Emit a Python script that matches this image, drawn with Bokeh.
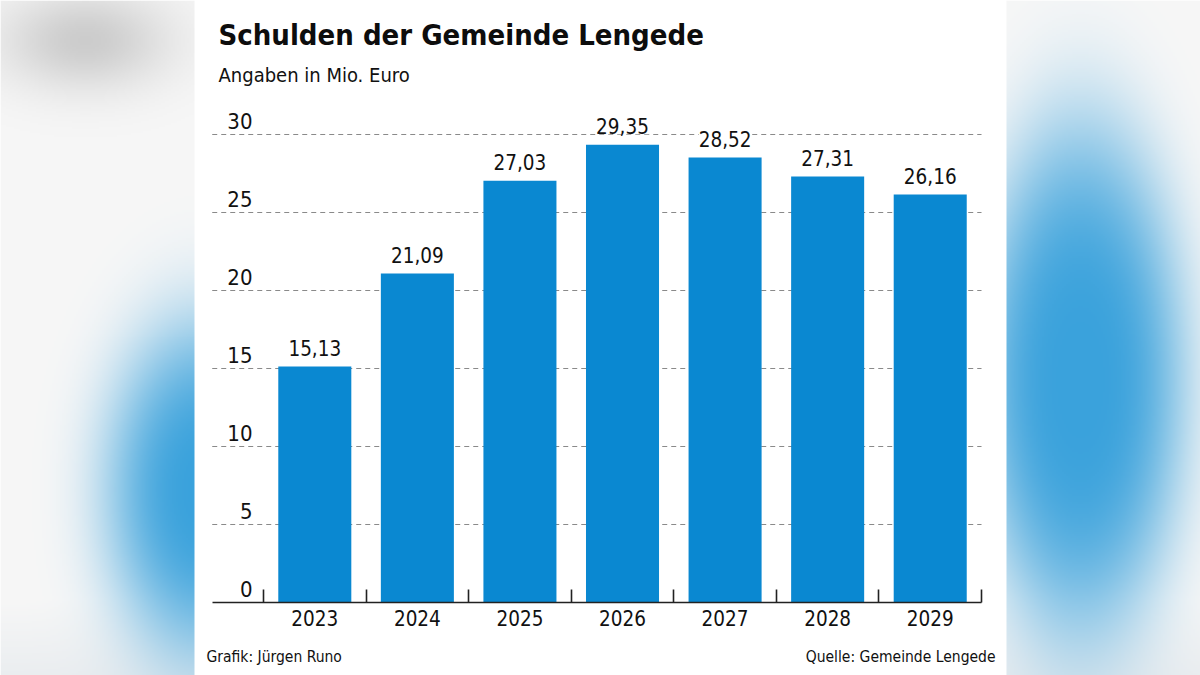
import numpy as np
from bokeh.plotting import figure
from bokeh.models import FixedTicker, Range1d, Label, LinearAxis
from bokeh.core.properties import value
from bokeh.embed import file_html
from bokeh.resources import INLINE

# ---------------- data ----------------
years = ["2023", "2024", "2025", "2026", "2027", "2028", "2029"]
debt = [15.13, 21.09, 27.03, 29.35, 28.52, 27.31, 26.16]
debt_labels = ["15,13", "21,09", "27,03", "29,35", "28,52", "27,31", "26,16"]
y_ticks = [0, 5, 10, 15, 20, 25, 30]
y_tick_labels = ["0", "5", "10", "15", "20", "25", "30"]
grid_values = [5, 10, 15, 20, 25, 30]

title_text = "Schulden der Gemeinde Lengede"
subtitle_text = "Angaben in Mio. Euro"
credit_text = "Grafik: Jürgen Runo"
source_text = "Quelle: Gemeinde Lengede"

# ---------------- layout constants ----------------
W, H = 1200, 675
CAT0_PX = 314.3        # centre of first category (px)
CAT_PX = 102.57        # category width (px)
BASE_PX = 602.0        # y = 0 (px from top)
UNIT_PX = 15.6         # px per unit

x_start = (0 - CAT0_PX) / CAT_PX
x_end = (W - CAT0_PX) / CAT_PX
y_end = BASE_PX / UNIT_PX
y_start = (BASE_PX - H) / UNIT_PX

n = len(years)
idx = list(range(n))
lo, hi = -1.0, n - 0.5

FONT = "'DejaVu Sans Condensed', 'DejaVu Sans', sans-serif"
INK = "#111111"
BLUE = "#0a88d1"
BL = 0.36  # renderer's alphabetic-baseline shift, in em

p = figure(width=W, height=H, output_backend="svg", toolbar_location=None,
           x_range=Range1d(x_start, x_end), y_range=Range1d(y_start, y_end),
           x_axis_location=None, y_axis_location=None, min_border=0,
           outline_line_color=None, background_fill_color="white",
           border_fill_color="white")
p.xgrid.visible = False
p.ygrid.visible = False

# ---------------- decorative blurred background ----------------
step = 2
nx, ny = int(np.ceil(W / step)), int(np.ceil(H / step))
fx = (np.arange(nx) + 0.5) * step
fy = (np.arange(ny) + 0.5) * step
RX, RY = np.meshgrid(fx, fy)


def blob(cx, cy, sx, sy, pw):
    r = np.sqrt(((RX - cx) / sx) ** 2 + ((RY - cy) / sy) ** 2)
    return np.exp(-r ** pw)


col = np.ones((ny, nx, 3)) * np.array([247.0, 247.0, 247.0])
ga = 0.9 * blob(85, 40, 85, 50, 2)
col = col * (1 - ga[..., None]) + np.array([200.0, 200.0, 200.0]) * ga[..., None]
gb = 0.5 * np.clip((RY - 600) / 75, 0, 1)
col = col * (1 - gb[..., None]) + np.array([222.0, 228.0, 233.0]) * gb[..., None]
ba = np.where(RX < 600, blob(205, 490, 100, 170, 3), blob(1080, 380, 105, 260, 3.5))
col = col * (1 - ba[..., None]) + np.array([58.0, 162.0, 220.0]) * ba[..., None]
panel = (RX >= 195) & (RX < 1006)
col[panel] = 255.0

rgba = np.zeros((ny, nx, 4), dtype=np.uint8)
rgba[..., :3] = np.clip(col, 0, 255).astype(np.uint8)
rgba[..., 3] = 255
img = rgba[::-1].copy().view(dtype=np.uint32).reshape((ny, nx))
p.image_rgba(image=[img], x=x_start, y=y_start, dw=x_end - x_start, dh=y_end - y_start, level="image")

# ---------------- grid ----------------
p.segment(x0=[lo] * len(grid_values), x1=[hi] * len(grid_values), y0=grid_values, y1=grid_values,
          line_color="#8a8a8a", line_width=1.2, line_dash="5 4", level="underlay")

# ---------------- bars ----------------
p.vbar(x=idx, top=debt, bottom=0, width=0.712, fill_color=BLUE, line_color=None)

# value labels
p.text(x=idx, y=debt, text=debt_labels, text_align="center", text_baseline="alphabetic",
       y_offset=-(11 + BL * 20.5), text_font=value(FONT), text_font_size="20.5px", text_color=INK,
       background_fill_color="white")

# y labels (inside plot, above gridlines)
p.text(x=[-0.607] * len(y_ticks), y=y_ticks, text=y_tick_labels, text_align="right",
       text_baseline="alphabetic", y_offset=-(6 + BL * 22), text_font=value(FONT),
       text_font_size="22px", text_color=INK)

# ---------------- x axis ----------------
ax = LinearAxis(fixed_location=0, bounds=(lo, hi),
                ticker=FixedTicker(ticks=idx, minor_ticks=[i - 0.5 for i in range(n + 1)]),
                major_label_overrides={i: y for i, y in enumerate(years)})
ax.axis_line_color = "#222222"
ax.axis_line_width = 1.6
ax.major_tick_line_color = None
ax.major_tick_in = 0
ax.major_tick_out = 0
ax.minor_tick_line_color = "#222222"
ax.minor_tick_line_width = 1.6
ax.minor_tick_in = 13
ax.minor_tick_out = 0
ax.major_label_standoff = 7
ax.major_label_text_font = FONT
ax.major_label_text_font_size = "20.5px"
ax.major_label_text_color = INK
p.add_layout(ax, "below")

# ---------------- titles / footers ----------------
p.add_layout(Label(x=218, y=H - (45 - BL * 29), x_units="screen", y_units="screen", text=title_text,
                   text_font=FONT, text_font_style="bold", text_font_size="29px",
                   text_color="#0d0d0d", text_baseline="alphabetic"))
p.add_layout(Label(x=218, y=H - (82 - BL * 20), x_units="screen", y_units="screen", text=subtitle_text,
                   text_font=FONT, text_font_size="20px",
                   text_color=INK, text_baseline="alphabetic"))
p.add_layout(Label(x=206, y=H - (662 - BL * 15.5), x_units="screen", y_units="screen", text=credit_text,
                   text_font=FONT, text_font_size="15.5px",
                   text_color=INK, text_baseline="alphabetic"))
p.add_layout(Label(x=995, y=H - (662 - BL * 15.5), x_units="screen", y_units="screen", text=source_text,
                   text_font=FONT, text_font_size="15.5px", text_align="right",
                   text_color=INK, text_baseline="alphabetic"))

open("out.html", "w").write(file_html(p, INLINE))
